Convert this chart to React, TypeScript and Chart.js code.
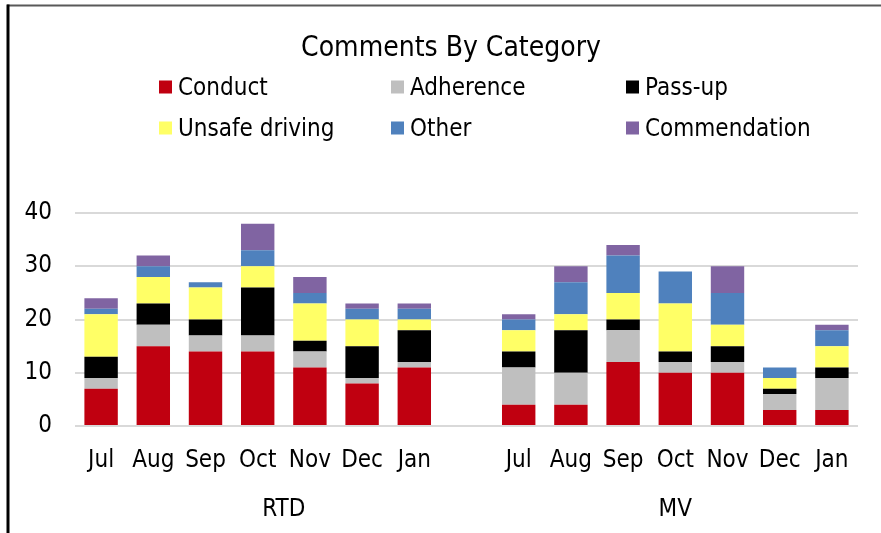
import React, { useEffect, useRef } from "react";
import { Chart, registerables } from "chart.js";

Chart.register(...registerables);

const titleText = "Comments By Category";
const months = ["Jul", "Aug", "Sep", "Oct", "Nov", "Dec", "Jan"];
const categories = [...months, "", ...months];
const groupLabels = ["RTD", "MV"];
const groupSizes = [8, 7];
const seriesNames = ["Conduct", "Adherence", "Pass-up", "Unsafe driving", "Other", "Commendation"];
const seriesColors = ["#C00010", "#BFBFBF", "#000000", "#FFFF66", "#4F81BD", "#8064A2"];

const conduct = [7, 15, 14, 14, 11, 8, 11, null, 4, 4, 12, 10, 10, 3, 3];
const adherence = [2, 4, 3, 3, 3, 1, 1, null, 7, 6, 6, 2, 2, 3, 6];
const passUp = [4, 4, 3, 9, 2, 6, 6, null, 3, 8, 2, 2, 3, 1, 2];
const unsafeDriving = [8, 5, 6, 4, 7, 5, 2, null, 4, 3, 5, 9, 4, 2, 4];
const other = [1, 2, 1, 3, 2, 2, 2, null, 2, 6, 7, 6, 6, 2, 3];
const commendation = [2, 2, 0, 5, 3, 1, 1, null, 1, 3, 2, 0, 5, 0, 1];

const yMin = 0;
const yMax = 40;
const yStep = 10;

const FONT = "'DejaVu Sans Condensed', 'DejaVu Sans', sans-serif";

export default function App() {
  const ref = useRef<HTMLCanvasElement>(null);

  useEffect(() => {
    document.body.style.margin = "0";
    const canvas = ref.current!;
    const series = [conduct, adherence, passUp, unsafeDriving, other, commendation];

    // group centers in slot units
    const groupCenters: number[] = [];
    let start = 0;
    groupSizes.forEach((n) => {
      groupCenters.push(start + n / 2);
      start += n;
    });

    const decor = {
      id: "decor",
      afterDraw(chart: any) {
        const ctx = chart.ctx as CanvasRenderingContext2D;
        ctx.save();
        // frame
        ctx.strokeStyle = "#595959";
        ctx.lineWidth = 2;
        ctx.beginPath();
        ctx.moveTo(7, 5.5);
        ctx.lineTo(881, 5.5);
        ctx.stroke();
        ctx.strokeStyle = "#000";
        ctx.lineWidth = 3;
        ctx.beginPath();
        ctx.moveTo(8, 4.5);
        ctx.lineTo(8, 533);
        ctx.stroke();
        // title
        ctx.fillStyle = "#000";
        ctx.font = `28px ${FONT}`;
        ctx.textAlign = "center";
        ctx.textBaseline = "middle";
        ctx.fillText(titleText, 451, 48.5);
        // legend (3 columns x 2 rows)
        const colX = [159, 391, 626];
        const rowY = [87, 128];
        ctx.font = `24px ${FONT}`;
        ctx.textAlign = "left";
        chart.data.datasets.forEach((ds: any, i: number) => {
          const bx = colX[i % 3];
          const cy = rowY[Math.floor(i / 3)];
          ctx.fillStyle = ds.backgroundColor;
          ctx.fillRect(bx, cy - 6.5, 13, 13);
          ctx.fillStyle = "#000";
          ctx.fillText(ds.label, bx + 19, cy + 2);
        });
        ctx.restore();
      },
    };

    const tickFont = { family: FONT, size: 24 };

    const chart = new Chart(canvas, {
      type: "bar",
      data: {
        labels: categories,
        datasets: series.map((d, i) => ({
          label: seriesNames[i],
          data: d as any,
          backgroundColor: seriesColors[i],
          borderWidth: 0,
          xAxisID: "x",
          yAxisID: "y",
        })),
      },
      options: {
        responsive: false,
        animation: false,
        layout: { padding: { top: 213, right: 23, left: 0, bottom: 0 } },
        plugins: {
          legend: { display: false },
          title: { display: false },
          tooltip: { enabled: false },
        },
        datasets: { bar: { categoryPercentage: 1, barPercentage: 0.64 } },
        scales: {
          x: {
            stacked: true,
            weight: 1,
            grid: { display: false, drawTicks: false },
            border: { display: false },
            ticks: { color: "#000", font: tickFont, padding: 20, maxRotation: 0, autoSkip: false },
            afterFit: (s: any) => {
              s.height = 63;
            },
          },
          x2: {
            type: "linear",
            position: "bottom",
            weight: 2,
            offset: false,
            min: 0,
            max: categories.length,
            grid: { display: false, drawTicks: false },
            border: { display: false },
            ticks: {
              color: "#000",
              font: tickFont,
              padding: 6,
              maxRotation: 0,
              callback: (v: any) => {
                const idx = groupCenters.indexOf(Number(v));
                return idx >= 0 ? groupLabels[idx] : "";
              },
            },
            afterBuildTicks: (s: any) => {
              s.ticks = groupCenters.map((v) => ({ value: v }));
            },
            afterFit: (s: any) => {
              s.height = 44;
            },
          },
          y: {
            stacked: true,
            min: yMin,
            max: yMax,
            ticks: { stepSize: yStep, padding: 23, color: "#000", font: tickFont },
            grid: { color: "#D9D9D9", lineWidth: 2, drawTicks: false },
            border: { display: false },
            afterFit: (s: any) => {
              s.width = 75;
            },
          },
        },
      } as any,
      plugins: [decor],
    });

    return () => chart.destroy();
  }, []);

  return (
    <div style={{ position: "fixed", left: 0, top: 0, width: 881, height: 533, background: "#fff" }}>
      <canvas ref={ref} width={881} height={533} />
    </div>
  );
}
